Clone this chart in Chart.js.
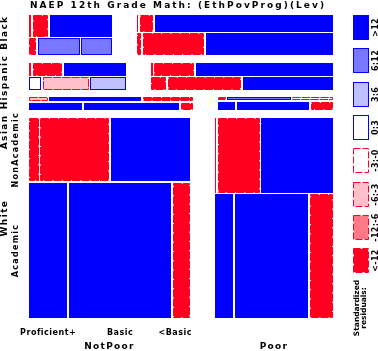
<!DOCTYPE html>
<html>
<head>
<meta charset="utf-8">
<script src="https://cdn.jsdelivr.net/npm/chart.js@4.4.1/dist/chart.umd.min.js"></script>
<style>
  html, body { margin: 0; padding: 0; background: #fff; }
</style>
</head>
<body>
<canvas id="myChart" width="378" height="351"></canvas>
<script>
// categories
const ethnicity = ["Black", "Hispanic", "Asian", "White"];
const poverty = ["NotPoor", "Poor"];
const program = ["NonAcademic", "Academic"];
const levels = ["Proficient+", "Basic", "<Basic"];
const residualBins = [">12", "6:12", "3:6", "0:3", "-3:-0", "-6:-3", "-12:-6", "<-12"];

// counts: NotPoor(NonAc, Ac) then Poor(NonAc, Ac), each Proficient+/Basic/<Basic
const blackCounts = [6, 47, 187, 17, 97, 71, 3, 29, 400, 12, 183, 378];
const hispanicCounts = [4, 53, 113, 21, 81, 63, 3, 72, 246, 26, 126, 156];
const asianCounts = [10, 49, 27, 62, 111, 14, 3, 25, 16, 22, 96, 29];
const whiteCounts = [81, 572, 661, 682, 1821, 303, 10, 416, 710, 296, 1204, 384];

// residual bin (index into residualBins) for each cell, same order
const blackShade = [7, 7, 0, 7, 1, 1, 7, 7, 0, 7, 7, 0];
const hispanicShade = [7, 7, 0, 3, 5, 2, 7, 7, 0, 7, 7, 0];
const asianShade = [5, 0, 7, 0, 0, 7, 7, 1, 4, 0, 0, 7];
const whiteShade = [7, 7, 0, 0, 0, 7, 7, 7, 0, 0, 0, 7];

const counts = [blackCounts, hispanicCounts, asianCounts, whiteCounts];
const shades = [blackShade, hispanicShade, asianShade, whiteShade];

// fill / outline per residual bin
const binStyle = [
  { fill: "#0000ff", line: "#0000ff", dash: false },
  { fill: "#7878ff", line: "#0000ff", dash: false },
  { fill: "#c0c0ff", line: "#0000ff", dash: false },
  { fill: "#ffffff", line: "#0000ff", dash: false },
  { fill: "#ffffff", line: "#ff0020", dash: true },
  { fill: "#ffc0cb", line: "#ff0020", dash: true },
  { fill: "#ff7888", line: "#ff0020", dash: true },
  { fill: "#ff0020", line: "#ff0020", dash: true },
];

// spacing between tiles, as fraction of the axis
const ethGap = 0.0254, povGap = 0.0822, progGap = 0.005, levGap = 0.0056;
const FONT = '"DejaVu Sans"';

const sum = (a) => a.reduce((s, v) => s + v, 0);

// split: eth (down), pov (across), prog (down), lev (across)
function layoutMosaic() {
  const cells = [];
  const total = sum(counts.map(sum));
  const yAvail = 1 - ethGap * (ethnicity.length - 1);
  let y0 = 0;
  counts.forEach((arr, e) => {
    const nE = sum(arr);
    const hE = (yAvail * nE) / total;
    let x0 = 0;
    poverty.forEach((_, p) => {
      const nEP = sum(arr.slice(p * 6, p * 6 + 6));
      const wP = ((1 - povGap) * nEP) / nE;
      let yy = y0;
      program.forEach((_, g) => {
        const k = p * 6 + g * 3;
        const row = arr.slice(k, k + 3);
        const nRow = sum(row);
        const hG = ((hE - progGap) * nRow) / nEP;
        let xx = x0;
        row.forEach((n, l) => {
          const w = ((wP - levGap * 2) * n) / nRow;
          cells.push({ e, p, g, l, x0: xx, x1: xx + w, y0: yy, y1: yy + hG, bin: shades[e][k + l] });
          xx += w + levGap;
        });
        yy += hG + progGap;
      });
      x0 += wP + povGap;
    });
    y0 += hE + ethGap;
  });
  return cells;
}
const cells = layoutMosaic();

function drawTile(ctx, X0, Y0, w, h, st, dash) {
  w = Math.max(w, 1);
  h = Math.max(h, 1);
  if (w <= 2 || h <= 2) {
    ctx.fillStyle = st.line;
    ctx.fillRect(X0, Y0, w, h);
    return;
  }
  ctx.lineWidth = 1;
  ctx.strokeStyle = st.line;
  if (st.dash) {
    ctx.fillStyle = st.fill;
    ctx.fillRect(X0 + 1, Y0 + 1, w - 2, h - 2);
    ctx.setLineDash(dash || [8.3, 1]);
  } else {
    ctx.fillStyle = st.fill;
    ctx.fillRect(X0, Y0, w, h);
    ctx.setLineDash([]);
  }
  ctx.strokeRect(X0 + 0.5, Y0 + 0.5, w - 1, h - 1);
  ctx.setLineDash([]);
}

function txt(ctx, s, x, y, size, spacing, rot, align) {
  ctx.save();
  ctx.translate(x, y);
  if (rot) ctx.rotate(-Math.PI / 2);
  ctx.font = "bold " + size + "px " + FONT;
  ctx.letterSpacing = spacing + "px";
  ctx.textAlign = align || "center";
  ctx.textBaseline = "middle";
  ctx.fillStyle = "#000";
  ctx.fillText(s, 0, 0);
  ctx.restore();
}

function textLen(ctx, s, size, spacing) {
  ctx.save();
  ctx.font = "bold " + size + "px " + FONT;
  ctx.letterSpacing = spacing + "px";
  const w = ctx.measureText(s).width;
  ctx.restore();
  return w;
}

// plugin - mosaic tiles
const mosaic = {
  id: "mosaic",
  beforeDatasetsDraw(chart) {
    const { ctx, scales: { x, y } } = chart;
    ctx.save();
    cells.forEach((c) => {
      const X0 = Math.round(x.getPixelForValue(c.x0));
      const X1 = Math.round(x.getPixelForValue(c.x1));
      const Y0 = Math.round(y.getPixelForValue(c.y0));
      const Y1 = Math.round(y.getPixelForValue(c.y1));
      drawTile(ctx, X0, Y0, X1 - X0, Y1 - Y0, binStyle[c.bin]);
    });
    ctx.restore();
  },
};

// plugin - labels, title and residual legend
const labels = {
  id: "labels",
  afterDraw(chart) {
    const { ctx, chartArea: { top, bottom, left, right }, scales: { x, y } } = chart;
    const span = (list, k0, k1, s) => {
      const lo = Math.min(...list.map((c) => c[k0]));
      const hi = Math.max(...list.map((c) => c[k1]));
      return [s.getPixelForValue(lo), s.getPixelForValue(hi)];
    };

    txt(ctx, "NAEP 12th Grade Math: (EthPovProg)(Lev)", left + 1, 5.5, 9, 2.05, false, "left");

    // ethnicity labels, pushed apart where they would overlap
    const eth = ethnicity.map((name, e) => {
      const [a, b] = span(cells.filter((c) => c.e === e), "y0", "y1", y);
      return { name, c: (a + b) / 2, half: textLen(ctx, name, 9, 1.4) / 2 + 2.5 };
    });
    for (let it = 0; it < 100; it++) {
      for (let i = 0; i < eth.length - 1; i++) {
        const ov = eth[i].c + eth[i].half - (eth[i + 1].c - eth[i + 1].half);
        if (ov > 0) {
          eth[i].c -= ov / 2;
          eth[i + 1].c += ov / 2;
        }
      }
    }
    if (eth[0].c - eth[0].half < top - 2) eth[0].c = top - 2 + eth[0].half;
    for (let i = 1; i < eth.length; i++) {
      const lim = eth[i - 1].c + eth[i - 1].half + eth[i].half;
      if (eth[i].c < lim) eth[i].c = lim;
    }
    eth.forEach((t) => txt(ctx, t.name, 5, t.c, 9, 1.4, true));

    // program labels for the largest band
    const big = ethnicity.length - 1;
    program.forEach((name, g) => {
      const [a, b] = span(cells.filter((c) => c.e === big && c.p === 0 && c.g === g), "y0", "y1", y);
      txt(ctx, name, 15.5, (a + b) / 2, 8, 1.3, true);
    });

    // level labels under the first poverty column
    const colRight = span(cells.filter((c) => c.e === big && c.p === 0), "x0", "x1", x)[1];
    levels.forEach((name, l) => {
      const [a, b] = span(cells.filter((c) => c.e === big && c.p === 0 && c.g === 1 && c.l === l), "x0", "x1", x);
      const w = textLen(ctx, name, 8, 0.5);
      const cx = Math.min((a + b) / 2, colRight + 2 - w / 2);
      txt(ctx, name, cx, bottom + 15, 8, 0.5, false);
    });

    poverty.forEach((name, p) => {
      const [a, b] = span(cells.filter((c) => c.e === big && c.p === p), "x0", "x1", x);
      txt(ctx, name, (a + b) / 2, bottom + 29, 9, 1.3, false);
    });

    // residual legend
    const bx = right + 20, bw = 16, bh = 25, step = 33.3;
    ctx.save();
    residualBins.forEach((name, i) => {
      const by = Math.round(top + i * step);
      drawTile(ctx, bx, by, bw, bh, binStyle[i], [7, 2]);
      txt(ctx, name, right + 42.5, by + bh / 2, 8, 0.3, true);
    });
    ctx.restore();
    txt(ctx, "Standardized", right + 24, bottom - 10, 7.5, 0, true);
    txt(ctx, "residuals:", right + 31.5, bottom - 10, 7.5, 0, true);
  },
};

// config block
const config = {
  type: "scatter",
  data: { datasets: [] },
  options: {
    responsive: false,
    animation: false,
    layout: { padding: { left: 29, right: 45, top: 15, bottom: 33 } },
    plugins: {
      legend: { display: false },
      tooltip: { enabled: false },
      title: { display: false },
    },
    scales: {
      x: { type: "linear", min: 0, max: 1, display: false },
      y: { type: "linear", min: 0, max: 1, reverse: true, display: false },
    },
  },
  plugins: [mosaic, labels],
};

const myChart = new Chart(document.getElementById("myChart"), config);
</script>
</body>
</html>
